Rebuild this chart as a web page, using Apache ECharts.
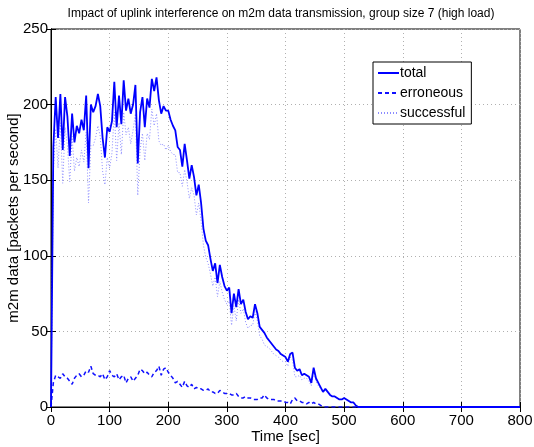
<!DOCTYPE html>
<html>
<head>
<meta charset="utf-8">
<script src="https://cdn.jsdelivr.net/npm/echarts@6/dist/echarts.min.js"></script>
<style>html,body{margin:0;padding:0;background:#fff;}#c{width:534px;height:447px;}</style>
</head>
<body>
<div id="c"></div>
<script>
const times = [0,4,8,12,16,20,24,28,32,36,40,44,48,52,56,60,64,68,72,76,80,84,88,92,96,100,104,108,112,116,120,124,128,132,136,140,144,148,152,156,160,164,168,172,176,180,184,188,192,196,200,204,208,212,216,220,224,228,232,236,240,244,248,252,256,260,264,268,272,276,280,284,288,292,296,300,304,308,312,316,320,324,328,332,336,340,344,348,352,356,360,364,368,372,376,380,384,388,392,396,400,404,408,412,416,420,424,428,432,436,440,444,448,452,456,460,464,468,472,476,480,484,488,492,496,500,504,508,512,516,520,524,800];
const total = [0,172,205,178,207,170,205,192,166,194,175,186,181,190,183,206,158,200,195,199,207,199,178,165,185,182,189,215,185,206,187,216,196,204,194,200,213,161,195,205,185,204,198,217,209,218,203,194,199,196,196,190,186,183,172,170,159,174,163,151,160,152,140,147,135,118,110,107,98,90,95,82,94,86,80,77,79,62,75,66,78,68,71,63,58,60,59,68,62,53,51,49,46,44,42,40,38,37,35,34,33,30,35,36,26,24,25,21,22,21,20,16,26,19,16,13,10,12,10,8,7,7,6,5,5,6,5,4,3,3,1,0,0];
const erroneous = [0,16,21,20,19,22,20,19,17,15,19,21,22,20,21,24,23,27,22,21,21,20,22,18,20,24,21,20,22,18,20,21,16,19,20,17,19,21,25,24,22,23,21,20,23,24,27,21,25,26,23,21,19,16,17,15,13,17,14,13,15,12,13,12,12,11,11,12,10,10,9,9,11,10,9,9,9,8,8,9,7,6,6,7,6,6,5,5,5,6,6,8,6,5,5,5,4,4,4,4,3,3,2,5,6,4,4,3,3,2,3,2,3,2,2,1,0,0,0,0,0,0,0,0,0,0,0,0,0,0,0,0,0];
const successful = [0,156,184,158,188,148,185,173,149,179,156,165,159,170,162,182,135,173,173,178,186,179,156,147,165,158,168,195,163,188,167,195,180,185,174,183,194,140,170,181,163,181,177,197,186,194,176,173,174,170,173,169,167,167,155,155,146,157,149,138,145,140,127,135,123,107,99,95,88,80,86,73,83,76,71,68,70,54,67,57,71,62,65,56,52,54,54,63,57,47,45,41,40,39,37,35,34,33,31,30,30,27,33,31,20,20,21,18,19,19,17,14,23,17,14,12,10,12,10,8,7,7,6,5,5,6,5,4,3,3,1,0,0];
const xTicks = [0,100,200,300,400,500,600,700,800];
const yTicks = [0,50,100,150,200,250];

const pair = arr => times.map((t, i) => [t, arr[i]]);
const font = 'Liberation Sans, Arial, Helvetica, sans-serif';
const chart = echarts.init(document.getElementById('c'), null, {renderer: 'canvas'});
const gridLine = {show: true, lineStyle: {color: '#b0b0b0', type: [1, 3], width: 1}};
chart.setOption({
  animation: false,
  backgroundColor: '#fff',
  title: {
    text: 'Impact of uplink interference on m2m data transmission, group size 7 (high load)',
    left: 276, top: 3, textAlign: 'center',
    textStyle: {fontFamily: font, fontSize: 12, fontWeight: 'normal', color: '#000'}
  },
  grid: {left: 51, right: 14, top: 29, bottom: 40, show: true, borderColor: '#000', borderWidth: 1,
         containLabel: false, outerBoundsMode: 'none'},
  legend: {
    orient: 'vertical', left: 373, top: 62,
    backgroundColor: '#fff', borderColor: '#000', borderWidth: 1, borderRadius: 0,
    padding: [4, 6, 4, 4], itemGap: 6, itemWidth: 21, itemHeight: 12,
    itemStyle: {opacity: 0},
    textStyle: {fontFamily: font, fontSize: 14, color: '#000', padding: [0, 0, 0, -4]},
    data: ['total', 'erroneous', 'successful']
  },
  xAxis: [{
    type: 'value', min: xTicks[0], max: xTicks[xTicks.length - 1], interval: 100,
    name: 'Time [sec]', nameLocation: 'middle', nameGap: 22, nameMoveOverlap: false,
    nameTextStyle: {fontFamily: font, fontSize: 15, color: '#000'},
    axisLine: {show: true, onZero: false, lineStyle: {color: '#000', width: 1}},
    axisTick: {show: true, inside: true, length: 5, lineStyle: {color: '#000'}},
    axisLabel: {fontFamily: font, fontSize: 15, color: '#000', margin: 6},
    splitLine: gridLine
  }, {
    type: 'value', position: 'top', min: 0, max: 800, interval: 100,
    axisLine: {show: true, lineStyle: {color: '#000'}},
    axisTick: {show: true, inside: true, length: 5, lineStyle: {color: '#000'}},
    axisLabel: {show: false}, splitLine: {show: false}
  }],
  yAxis: [{
    type: 'value', min: yTicks[0], max: yTicks[yTicks.length - 1], interval: 50,
    name: 'm2m data [packets per second]', nameLocation: 'middle', nameGap: 30, nameMoveOverlap: false,
    nameTextStyle: {fontFamily: font, fontSize: 15, color: '#000'},
    axisLine: {show: true, onZero: false, lineStyle: {color: '#000', width: 1}},
    axisTick: {show: true, inside: true, length: 5, lineStyle: {color: '#000'}},
    axisLabel: {fontFamily: font, fontSize: 15, color: '#000', margin: 3},
    splitLine: gridLine
  }, {
    type: 'value', position: 'right', min: 0, max: 250, interval: 50,
    axisLine: {show: true, lineStyle: {color: '#000'}},
    axisTick: {show: true, inside: true, length: 5, lineStyle: {color: '#000'}},
    axisLabel: {show: false}, splitLine: {show: false}
  }],
  series: [{
    name: 'successful', type: 'line', data: pair(successful), symbol: 'none', z: 2,
    color: '#8c8cff',
    lineStyle: {color: '#8c8cff', width: 1, type: [1, 2]}
  }, {
    name: 'erroneous', type: 'line', data: pair(erroneous), symbol: 'none', z: 3,
    color: '#1010ff',
    lineStyle: {color: '#1010ff', width: 1.5, type: [4, 3]}
  }, {
    name: 'total', type: 'line', data: pair(total), symbol: 'none', z: 4,
    color: '#0000ff',
    lineStyle: {color: '#0000ff', width: 1.8}
  }]
});
</script>
</body>
</html>
